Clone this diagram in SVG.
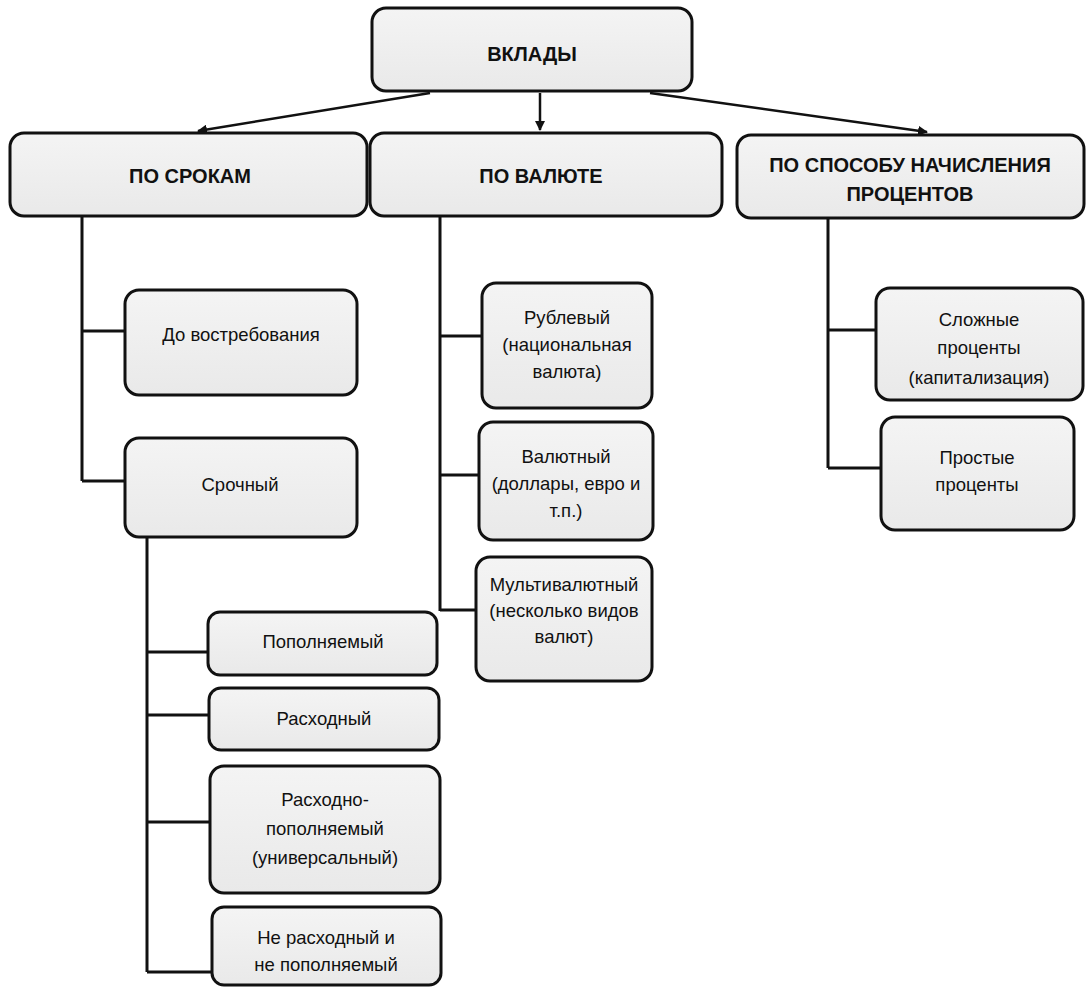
<svg xmlns="http://www.w3.org/2000/svg" width="1088" height="989" viewBox="0 0 1088 989">
<defs>
<linearGradient id="g" x1="0" y1="0" x2="0" y2="1">
<stop offset="0" stop-color="#f4f4f4"/>
<stop offset="1" stop-color="#e9e9e9"/>
</linearGradient>
<marker id="ah" viewBox="0 0 10 10" refX="9" refY="5" markerWidth="4" markerHeight="4" orient="auto" markerUnits="strokeWidth">
<path d="M0,0 L10,5 L0,10 z" fill="#111"/>
</marker>
</defs>
<style>
.box{fill:url(#g);stroke:#111;stroke-width:3}
.h{font-family:"Liberation Sans",Arial,sans-serif;font-weight:bold;font-size:20px;fill:#111;text-anchor:middle}
.t{font-family:"Liberation Sans",Arial,sans-serif;font-size:18.5px;fill:#111;text-anchor:middle}
.c{fill:none;stroke:#111;stroke-width:3}
.a{fill:none;stroke:#111;stroke-width:2.5;marker-end:url(#ah)}
</style>
<rect width="1088" height="989" fill="#ffffff"/>
<g id="connectors">
<path class="a" d="M430,93 L198,131"/>
<path class="a" d="M540,93 L540,130"/>
<path class="a" d="M650,93 L927,132"/>
<path class="c" d="M82,216 V481 M82,331 H125 M82,481 H125"/>
<path class="c" d="M147,537 V972 M147,652 H208 M147,715 H209 M147,822 H210 M147,972 H212"/>
<path class="c" d="M440,216 V611 M440,336 H482 M440,475 H479 M440,610 H476"/>
<path class="c" d="M828,218 V468 M828,330 H876 M828,468 H881"/>
</g>
<g id="n-vklady"><rect class="box" x="372" y="8" width="320" height="83" rx="14"/><text class="h" x="532" y="61">ВКЛАДЫ</text></g>
<g id="n-sroki"><rect class="box" x="10" y="133" width="357" height="83" rx="14"/><text class="h" x="190" y="183">ПО СРОКАМ</text></g>
<g id="n-valuta"><rect class="box" x="370" y="133" width="352" height="83" rx="14"/><text class="h" x="541" y="183">ПО ВАЛЮТЕ</text></g>
<g id="n-sposob"><rect class="box" x="737" y="135" width="347" height="83" rx="14"/><text class="h" x="910" y="172">ПО СПОСОБУ НАЧИСЛЕНИЯ</text><text class="h" x="910" y="201">ПРОЦЕНТОВ</text></g>
<g id="n-dovostr"><rect class="box" x="125" y="290" width="232" height="105" rx="14"/><text class="t" x="241" y="341">До востребования</text></g>
<g id="n-srochny"><rect class="box" x="125" y="438" width="232" height="99" rx="14"/><text class="t" x="240" y="491">Срочный</text></g>
<g id="n-popoln"><rect class="box" x="208" y="612" width="229" height="63" rx="12"/><text class="t" x="323" y="648">Пополняемый</text></g>
<g id="n-rashod"><rect class="box" x="209" y="688" width="230" height="62" rx="12"/><text class="t" x="324" y="725">Расходный</text></g>
<g id="n-rashpop"><rect class="box" x="210" y="766" width="230" height="127" rx="14"/><text class="t" x="325" y="806">Расходно-</text><text class="t" x="325" y="835">пополняемый</text><text class="t" x="325" y="864">(универсальный)</text></g>
<g id="n-nerash"><rect class="box" x="212" y="907" width="229" height="78" rx="12"/><text class="t" x="326" y="944">Не расходный и</text><text class="t" x="326" y="971">не пополняемый</text></g>
<g id="n-rubl"><rect class="box" x="482" y="283" width="170" height="125" rx="14"/><text class="t" x="567" y="324">Рублевый</text><text class="t" x="567" y="351">(национальная</text><text class="t" x="567" y="378">валюта)</text></g>
<g id="n-valutny"><rect class="box" x="479" y="422" width="174" height="118" rx="14"/><text class="t" x="566" y="463">Валютный</text><text class="t" x="566" y="490">(доллары, евро и</text><text class="t" x="566" y="517">т.п.)</text></g>
<g id="n-multi"><rect class="box" x="476" y="557" width="176" height="124" rx="14"/><text class="t" x="564" y="591">Мультивалютный</text><text class="t" x="564" y="617">(несколько видов</text><text class="t" x="564" y="643">валют)</text></g>
<g id="n-slozh"><rect class="box" x="876" y="288" width="207" height="112" rx="14"/><text class="t" x="979" y="326">Сложные</text><text class="t" x="979" y="354">проценты</text><text class="t" x="979" y="384">(капитализация)</text></g>
<g id="n-prost"><rect class="box" x="881" y="417" width="193" height="113" rx="14"/><text class="t" x="977" y="464">Простые</text><text class="t" x="977" y="491">проценты</text></g>
</svg>
